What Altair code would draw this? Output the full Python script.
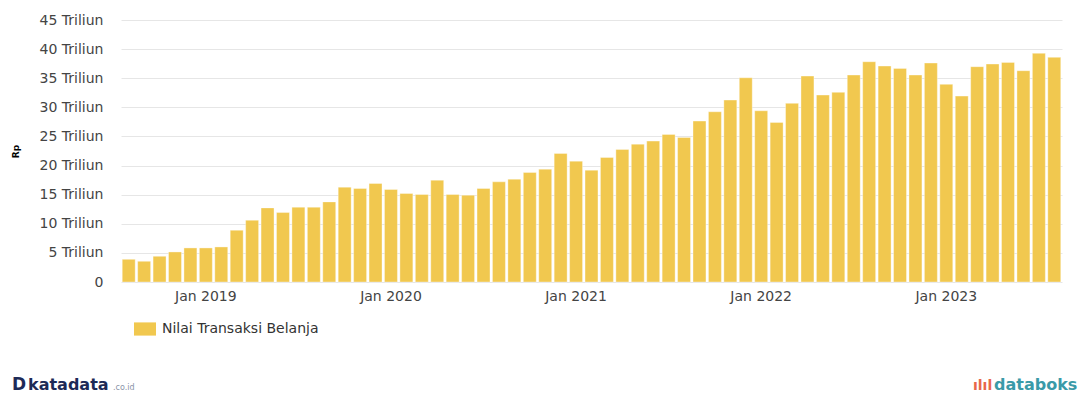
import altair as alt
import pandas as pd

# Monthly categories Aug 2018 .. Aug 2023
months = [d.strftime("%Y-%m") for d in pd.date_range("2018-08-01", "2023-08-01", freq="MS")]

# Nilai Transaksi Belanja (Rp triliun)
values = [3.9, 3.56, 4.42, 5.16, 5.85, 5.85, 6.02, 8.89, 10.61, 12.73,
          11.93, 12.85, 12.85, 13.76, 16.29, 16.06, 16.92, 15.89, 15.2, 15.03,
          17.49, 15.03, 14.91, 16.06, 17.2, 17.66, 18.81, 19.38, 22.08, 20.76,
          19.21, 21.39, 22.77, 23.68, 24.2, 25.35, 24.83, 27.64, 29.24, 31.25,
          35.08, 29.41, 27.41, 30.68, 35.37, 32.11, 32.57, 35.55, 37.83, 37.09,
          36.69, 35.55, 37.61, 33.95, 31.93, 36.98, 37.44, 37.72, 36.29, 39.28,
          38.59]

series_name = "Nilai Transaksi Belanja"
y_ticks = [0, 5, 10, 15, 20, 25, 30, 35, 40, 45]
bar_color = "#F1C84F"

df = pd.DataFrame({"month": months, "value": values, "series": [series_name] * len(months)})
one = pd.DataFrame({"k": [0]})

FONT = "DejaVu Sans"

bars = alt.Chart(df).mark_bar(stroke="#ffffff", strokeWidth=0.6, strokeOpacity=0.6).encode(
    x=alt.X(
        "month:O",
        sort=None,
        scale=alt.Scale(paddingInner=0.16, paddingOuter=0.08),
        axis=alt.Axis(
            title=None,
            labelAngle=0,
            ticks=False,
            tickSize=0,
            domain=False,
            labelPadding=7,
            labelFont=FONT,
            labelFontSize=14,
            labelColor="#444444",
            labelOverlap=False,
            labelExpr="slice(datum.value, 5) == '01' ? 'Jan ' + slice(datum.value, 0, 4) : ''",
        ),
    ),
    y=alt.Y(
        "value:Q",
        scale=alt.Scale(domain=[0, 45], nice=False),
        axis=alt.Axis(
            title="Rp",
            values=y_ticks,
            ticks=False,
            tickSize=0,
            domain=False,
            grid=True,
            gridColor="#e6e6e6",
            labelPadding=18,
            labelFont=FONT,
            labelFontSize=14,
            labelColor="#444444",
            labelExpr="datum.value == 0 ? '0' : datum.value + ' Triliun'",
            titleFont=FONT,
            titleFontSize=9,
            titleFontWeight="bold",
            titleColor="#000000",
            titleX=-106,
            titleY=131,
            titleAlign="center",
            titleBaseline="middle",
            titleAngle=270,
        ),
    ),
    color=alt.Color(
        "series:N",
        scale=alt.Scale(range=[bar_color]),
        legend=alt.Legend(
            title=None,
            orient="none",
            legendX=13,
            legendY=298,
            symbolType="M-1,-0.6H1V0.6H-1Z",
            symbolSize=484,
            symbolStrokeWidth=0,
            labelFont=FONT,
            labelFontSize=14,
            labelColor="#333333",
            labelOffset=6,
        ),
    ),
)

logo_left_icon = alt.Chart(one).mark_text(
    text="D", font=FONT, fontSize=17, fontWeight="bold", color="#1d2a57",
    align="left", baseline="alphabetic",
).encode(x=alt.value(-109), y=alt.value(370))

logo_left = alt.Chart(one).mark_text(
    text="katadata", font=FONT, fontSize=16, fontWeight="bold", color="#1d2a57",
    align="left", baseline="alphabetic",
).encode(x=alt.value(-93), y=alt.value(370))

logo_left_dom = alt.Chart(one).mark_text(
    text=".co.id", font=FONT, fontSize=8, color="#8a93a8",
    align="left", baseline="alphabetic",
).encode(x=alt.value(-8), y=alt.value(370))

logo_right_icon = alt.Chart(one).mark_text(
    text="ılıl", font=FONT, fontSize=14, fontWeight="bold", color="#e8674a",
    align="left", baseline="alphabetic",
).encode(x=alt.value(852), y=alt.value(370))

logo_right = alt.Chart(one).mark_text(
    text="databoks", font=FONT, fontSize=16, fontWeight="bold", color="#3a9aa8",
    align="left", baseline="alphabetic",
).encode(x=alt.value(873), y=alt.value(370))

chart = alt.layer(bars, logo_left_icon, logo_left, logo_left_dom, logo_right_icon, logo_right).properties(
    width=941,
    height=262,
    autosize=alt.AutoSizeParams(type="none"),
    padding={"left": 113, "top": 12, "right": 16, "bottom": 112},
    background="#ffffff",
).configure_view(stroke=None)

chart.save("out.html", embed_options={"renderer": "svg", "actions": False})
